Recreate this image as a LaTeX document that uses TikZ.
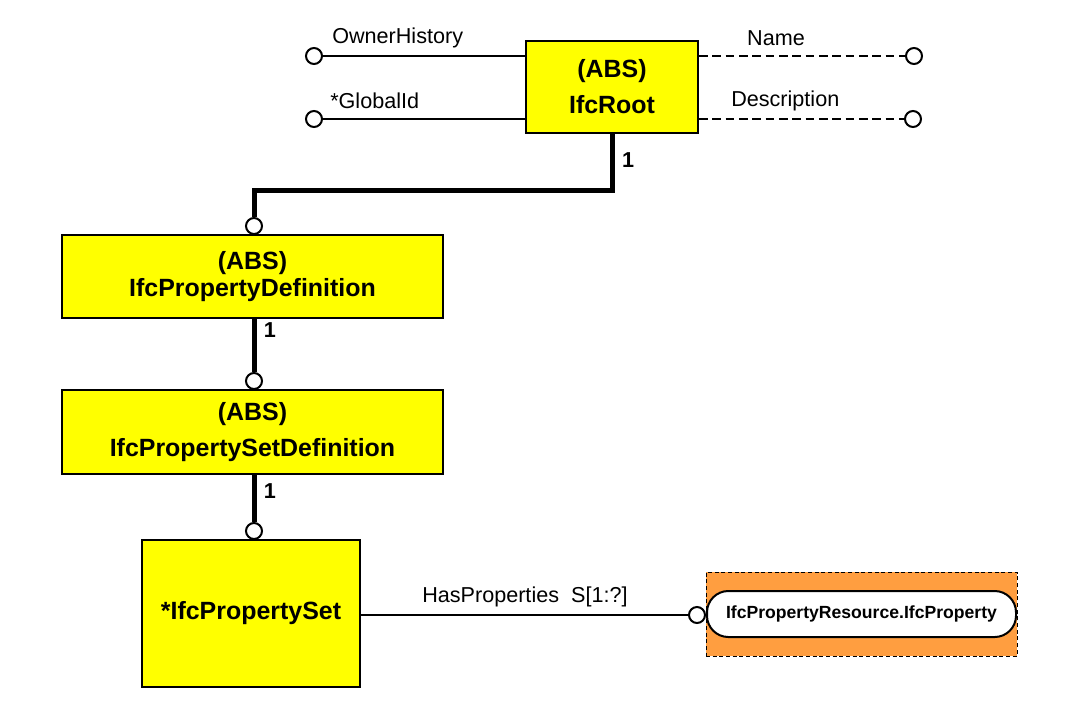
\documentclass[tikz,border=0pt]{standalone}
\usepackage{fontspec}
\setmainfont{Liberation Sans}
\usepackage{tikz}
\definecolor{ifcyellow}{HTML}{FFFF00}
\definecolor{ifcorange}{HTML}{FF9E40}

\begin{document}
\begin{tikzpicture}[
  x=0.75pt,y=-0.75pt,
  entity/.style={draw,line width=1.5pt,fill=ifcyellow,align=center,inner sep=0pt,font=\fontsize{18.7}{20.3}\selectfont\bfseries},
  port/.style={circle,draw,line width=1.5pt,fill=white,minimum size=12pt,inner sep=0pt},
  attr/.style={line width=1.5pt},
  opt/.style={attr,dash pattern=on 6.5pt off 3.5pt},
  link/.style={line width=3.75pt},
  lbl/.style={inner sep=0pt,font=\fontsize{16.2}{19}\selectfont},
  card/.style={inner sep=0pt,font=\fontsize{16.2}{19}\selectfont\bfseries}
]
\useasboundingbox (0,0) rectangle (1081,719);
% entities
\node[entity,minimum width=129pt,minimum height=69pt] (root) at (612,87) {(ABS)\\[6.7pt]IfcRoot};
\node[entity,minimum width=285.75pt,minimum height=62.25pt] (pdef) at (252.5,276.5) {(ABS)\\IfcPropertyDefinition};
\node[entity,minimum width=285.75pt,minimum height=63pt] (psdef) at (252.5,432) {(ABS)\\[6.7pt]IfcPropertySetDefinition};
\node[entity,minimum width=163.5pt,minimum height=110.25pt] (pset) at (251,613.5) {*IfcPropertySet};
\node[draw,densely dashed,line width=0.5pt,fill=ifcorange,minimum width=233.25pt,minimum height=63pt] (propbg) at (861.5,614) {};
\node[draw,line width=1.5pt,fill=white,rounded corners=16pt,minimum width=231.75pt,minimum height=34.5pt,font=\fontsize{13.2}{15}\selectfont\bfseries] (prop) at (861.5,614) {IfcPropertyResource.IfcProperty};
% ports
\node[port] (cowner) at (314,56) {};
\node[port] (cglobal) at (314,119) {};
\node[port] (cname) at (914,56) {};
\node[port] (cdescr) at (913,119) {};
\node[port] (cpdef) at (254,226) {};
\node[port] (cpsdef) at (254,381) {};
\node[port] (cpset) at (254,531) {};
\node[port] (cprop) at (697,615) {};
% attributes
\draw[attr] (cowner) -- (cowner -| root.west);
\draw[attr] (cglobal) -- (cglobal -| root.west);
\draw[opt] (cname -| root.east) -- (cname);
\draw[opt] (cdescr -| root.east) -- (cdescr);
\draw[attr] (cprop -| pset.east) -- (cprop);
% supertypes
\draw[link] (root.south) -- ++(0,56) -| (cpdef.north);
\draw[link] (cpsdef |- pdef.south) -- (cpsdef.north);
\draw[link] (cpset |- psdef.south) -- (cpset.north);
% labels
\node[lbl,anchor=west] at (332,38) {OwnerHistory};
\node[lbl,anchor=west] at (330,101) {*GlobalId};
\node[lbl] at (776,38) {Name};
\node[lbl,anchor=west] at (731,101) {Description};
\node[lbl,anchor=west] at (422,597) {HasProperties\ \ S[1:?]};
\node[card] at (628,160) {1};
\node[card] at (270,330) {1};
\node[card] at (270,491) {1};
\end{tikzpicture}
\end{document}
